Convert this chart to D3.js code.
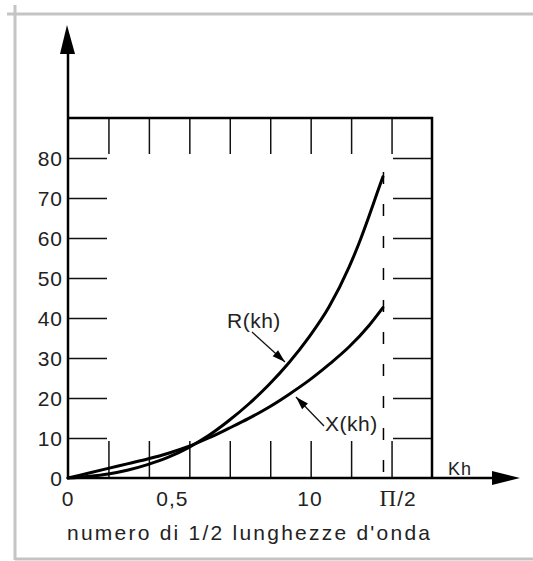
<!DOCTYPE html>
<html><head><meta charset="utf-8">
<script src="https://cdn.jsdelivr.net/npm/d3@7"></script>
<style>
html,body{margin:0;padding:0;background:#fff;}
svg{display:block;}
text{font-family:"Liberation Sans",Arial,sans-serif;fill:#222;}
</style></head>
<body>
<svg id="c" width="533" height="561"></svg>
<script>
// ---- data ----
const yTickValues = [0,10,20,30,40,50,60,70,80];
const xTickLabels = ["0","0,5","10","\u03A0/2"];
const xTickPos = [0, 0.52, 1.205, 1.644];   // kh positions of the labels
const halfWave = Math.PI/2;                 // dashed limit
const rKh  = [0,0.1,0.2,0.3,0.4,0.5,0.6,0.7,0.8,0.9,1.0,1.1,1.2,1.3,1.4,1.45,1.5,1.54,1.568];
const rVal = [0,0.4,1.0,2.0,3.4,5.2,7.6,10.6,14.3,18.5,23.3,28.8,35.2,42.8,52.8,58.8,65.6,71.4,75.3];
const xKh  = [0,0.1,0.2,0.3,0.4,0.5,0.6,0.7,0.8,0.9,1.0,1.1,1.2,1.3,1.4,1.5,1.568];
const xVal = [0,1.2,2.4,3.6,4.8,6.2,7.9,10.0,12.4,14.9,17.7,20.9,24.4,28.4,32.8,38.2,42.6];
const seriesNames = ["R(kh)","X(kh)"];
const xAxisName = "Kh";
const xTitle = "numero di 1/2 lunghezze d'onda";

// ---- layout ----
const svg = d3.select("#c");
const L=68, R=432, T=118, B=478;
const xMax = halfWave*9/7.8;
const x = d3.scaleLinear().domain([0,xMax]).range([L,R]);
const y = d3.scaleLinear().domain([0,90]).range([B,T]);
const grid = d3.range(1,9).map(i=>xMax*i/9);
const yGrid = yTickValues.filter(v=>v>0);

// gray page frame
const gray="#c4c4c4";
svg.append("line").attr("x1",7).attr("x2",533).attr("y1",14).attr("y2",14).attr("stroke",gray).attr("stroke-width",3);
svg.append("line").attr("x1",15).attr("x2",15).attr("y1",5).attr("y2",560).attr("stroke",gray).attr("stroke-width",3);
svg.append("line").attr("x1",15).attr("x2",533).attr("y1",559).attr("y2",559).attr("stroke",gray).attr("stroke-width",3);

function styleTicks(g){ g.select(".domain").remove(); g.selectAll(".tick line").attr("stroke","#111").attr("stroke-width",1.5); g.selectAll(".tick text").remove(); }
// inward ticks
svg.append("g").attr("transform",`translate(0,${B})`).call(d3.axisTop(x).tickValues(grid).tickSize(37)).call(styleTicks);
svg.append("g").attr("transform",`translate(0,${T})`).call(d3.axisBottom(x).tickValues(grid).tickSize(36)).call(styleTicks);
svg.append("g").attr("transform",`translate(${L},0)`).call(d3.axisRight(y).tickValues(yGrid).tickSize(39)).call(styleTicks);
svg.append("g").attr("transform",`translate(${R},0)`).call(d3.axisLeft(y).tickValues(yGrid).tickSize(39)).call(styleTicks);

// box
svg.append("path").attr("d",`M${L},${T}H${R}V${B}`).attr("fill","none").attr("stroke","#000").attr("stroke-width",2.5);
// axes lines
svg.append("line").attr("x1",L).attr("x2",L).attr("y1",50).attr("y2",B+1).attr("stroke","#000").attr("stroke-width",2.5);
svg.append("line").attr("x1",L-1).attr("x2",495).attr("y1",B).attr("y2",B).attr("stroke","#000").attr("stroke-width",2.5);
// arrowheads
svg.append("path").attr("d",`M${L-1},25 L${L+7},54 L${L-8},54 Z`).attr("fill","#000");
svg.append("path").attr("d",`M520,${B} L492,${B-7} L492,${B+7} Z`).attr("fill","#000");

// dashed limit line
svg.append("line").attr("x1",x(halfWave)).attr("x2",x(halfWave)).attr("y1",172).attr("y2",B)
  .attr("stroke","#000").attr("stroke-width",1.5).attr("stroke-dasharray","12,20");

// y labels
const ya = svg.append("g").attr("transform",`translate(${L-5},0)`).call(d3.axisLeft(y).tickValues(yTickValues).tickSize(0).tickPadding(0));
ya.select(".domain").remove();
ya.selectAll(".tick text").attr("font-size",21).attr("letter-spacing","1px").attr("fill","#222")
  .attr("font-family","'Liberation Sans',Arial,sans-serif").attr("dy","0.36em");

// x labels
svg.selectAll(".xl").data(xTickLabels).join("text").attr("class","xl")
  .attr("x",(d,i)=>x(xTickPos[i])).attr("y",506).attr("text-anchor","middle")
  .attr("font-size",21).attr("letter-spacing","1px")
  .each(function(d){
    const t=d3.select(this);
    if(d.charAt(0)==="\u03A0"){
      t.append("tspan").attr("font-family","'Liberation Serif','Times New Roman',serif").attr("font-size",23).text(d.charAt(0));
      t.append("tspan").text(d.slice(1));
    } else t.text(d);
  });
svg.append("text").attr("x",448).attr("y",475).attr("font-size",18).attr("letter-spacing","1px").text(xAxisName);
svg.append("text").attr("x",67).attr("y",540).attr("font-size",21).attr("textLength",363).attr("lengthAdjust","spacing").text(xTitle);

// curves
const line = d3.line().x(d=>x(d[0])).y(d=>y(d[1])).curve(d3.curveMonotoneX);
const rData = rKh.map((k,i)=>[k,rVal[i]]);
const xData = xKh.map((k,i)=>[k,xVal[i]]);
[rData,xData].forEach(dd=>{
  svg.append("path").attr("d",line(dd)).attr("fill","none").attr("stroke","#000").attr("stroke-width",3).attr("stroke-linecap","round");
});

// series labels + leader arrows
function leader(x1,y1,x2,y2){
  svg.append("line").attr("x1",x1).attr("y1",y1).attr("x2",x2).attr("y2",y2).attr("stroke","#111").attr("stroke-width",1.3);
  const a=Math.atan2(y2-y1,x2-x1), len=13, w=4;
  const bx=x2-len*Math.cos(a), by=y2-len*Math.sin(a);
  const px=-Math.sin(a)*w, py=Math.cos(a)*w;
  svg.append("path").attr("d",`M${x2},${y2}L${bx+px},${by+py}L${bx-px},${by-py}Z`).attr("fill","#000");
}
svg.append("text").attr("x",227).attr("y",328).attr("font-size",21).attr("letter-spacing","0.5px").text(seriesNames[0]);
leader(252,332,285,362);
svg.append("text").attr("x",325).attr("y",431).attr("font-size",21).attr("letter-spacing","0.5px").text(seriesNames[1]);
leader(324,426,296,397);
</script>
</body></html>
